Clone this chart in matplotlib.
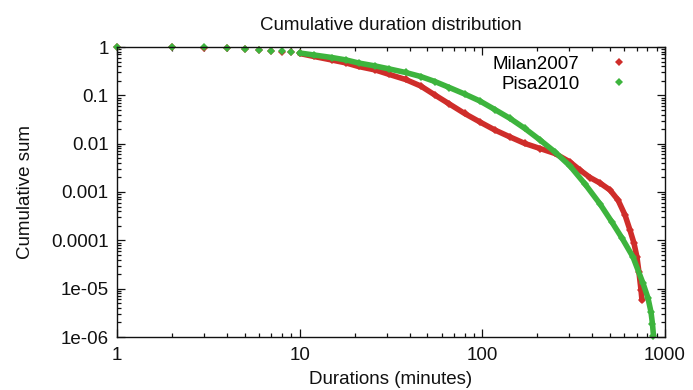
import matplotlib
matplotlib.use('Agg')
import matplotlib.pyplot as plt
from matplotlib.ticker import FixedLocator, LogLocator, NullFormatter

plt.rcParams['font.family'] = ['Liberation Sans', 'DejaVu Sans']

# (durations in minutes, cumulative sum)
milan_x = [1, 2, 3, 4, 5, 6, 7, 8, 9,
           10, 12, 15, 18, 21, 26, 31, 38, 46, 55, 66, 80, 97, 117, 142, 171,
           207, 250, 302, 342, 389, 441, 500, 553, 604, 643, 676, 702, 720,
           739, 748]
milan_y = [1.0, 0.99, 0.97, 0.94, 0.90, 0.86, 0.83, 0.80, 0.77,
           0.734, 0.636, 0.538, 0.467, 0.395, 0.334, 0.270, 0.2127, 0.156,
           0.1016, 0.0662, 0.0421, 0.0281, 0.0192, 0.01373, 0.01008, 0.00794,
           0.00626, 0.00417, 0.00285, 0.00199, 0.00153, 0.00110, 6.83e-4,
           3.34e-4, 1.63e-4, 8.8e-5, 4.52e-5, 2.21e-5, 9.4e-6, 5.8e-6]

pisa_x = [1, 2, 3, 4, 5, 6, 7, 8, 9,
          10, 12, 15, 18, 21, 26, 31, 38, 46, 55, 66, 80, 97, 117, 142, 171,
          207, 250, 302, 365, 441, 512, 581, 668, 757, 807, 838, 854, 865]
pisa_y = [1.0, 0.99, 0.98, 0.95, 0.91, 0.87, 0.84, 0.81, 0.78,
          0.751, 0.683, 0.606, 0.538, 0.467, 0.404, 0.351, 0.297, 0.245,
          0.193, 0.145, 0.1065, 0.0763, 0.0509, 0.0332, 0.0206, 0.0119,
          0.00672, 0.00345, 0.00146, 5.64e-4, 2.39e-4, 1.12e-4, 4.52e-5,
          1.31e-5, 6.4e-6, 3.3e-6, 1.86e-6, 1.05e-6]

x_ticks = [1, 10, 100, 1000]
x_labels = ['1', '10', '100', '1000']
y_ticks = [1e-6, 1e-5, 1e-4, 1e-3, 1e-2, 1e-1, 1]
y_labels = ['1e-06', '1e-05', '0.0001', '0.001', '0.01', '0.1', '1']

RED = '#cf2d2a'
GREEN = '#3db43d'
FS = 13.5


def series(ax, x, y, color, label):
    # dense part drawn as a thick band, discrete points as diamonds
    ax.plot(x[9:], y[9:], '-', color=color, lw=4.0, solid_capstyle='round',
            solid_joinstyle='round')
    ax.plot(x, y, 'D', color=color, ms=4.2, mew=0, label=label, clip_on=False)


def main():
    fig = plt.figure(figsize=(6.93, 3.9), dpi=100)
    ax = fig.add_axes([117 / 693, 1 - 337 / 390, 548 / 693, 290 / 390])

    series(ax, milan_x, milan_y, RED, 'Milan2007')
    series(ax, pisa_x, pisa_y, GREEN, 'Pisa2010')

    ax.set_xscale('log')
    ax.set_yscale('log')
    ax.set_xlim(1, 1000)
    ax.set_ylim(1e-6, 1)

    ax.xaxis.set_major_locator(FixedLocator(x_ticks))
    ax.set_xticklabels(x_labels)
    ax.yaxis.set_major_locator(FixedLocator(y_ticks))
    ax.set_yticklabels(y_labels)
    for axis in (ax.xaxis, ax.yaxis):
        axis.set_minor_locator(LogLocator(base=10, subs=range(2, 10), numticks=100))
        axis.set_minor_formatter(NullFormatter())

    ax.tick_params(which='both', direction='in', top=True, right=True,
                   width=0.9, colors='#111111', labelsize=FS)
    ax.tick_params(which='major', length=5.5)
    ax.tick_params(which='minor', length=2.8)
    ax.tick_params(axis='x', which='major', pad=7)
    ax.tick_params(axis='y', which='major', pad=6)
    for s in ax.spines.values():
        s.set_linewidth(1.0)
        s.set_color('#111111')

    ax.legend(loc='center right', bbox_to_anchor=(0.933, 0.907),
              frameon=False, markerfirst=False, fontsize=FS,
              handlelength=1.0, handletextpad=1.6, labelspacing=0.15,
              borderpad=0, borderaxespad=0, markerscale=1.0)

    fig.text(391 / 693, 1 - 25 / 390, 'Cumulative duration distribution',
             ha='center', va='center', fontsize=FS, color='#111111')
    fig.text(391 / 693, 1 - 379 / 390, 'Durations (minutes)',
             ha='center', va='center', fontsize=FS, color='#111111')
    fig.text(26 / 693, 1 - 192 / 390, 'Cumulative sum', rotation=90,
             ha='center', va='center', fontsize=FS, color='#111111')

    fig.savefig('out.png', dpi=100)


if __name__ == '__main__':
    main()
